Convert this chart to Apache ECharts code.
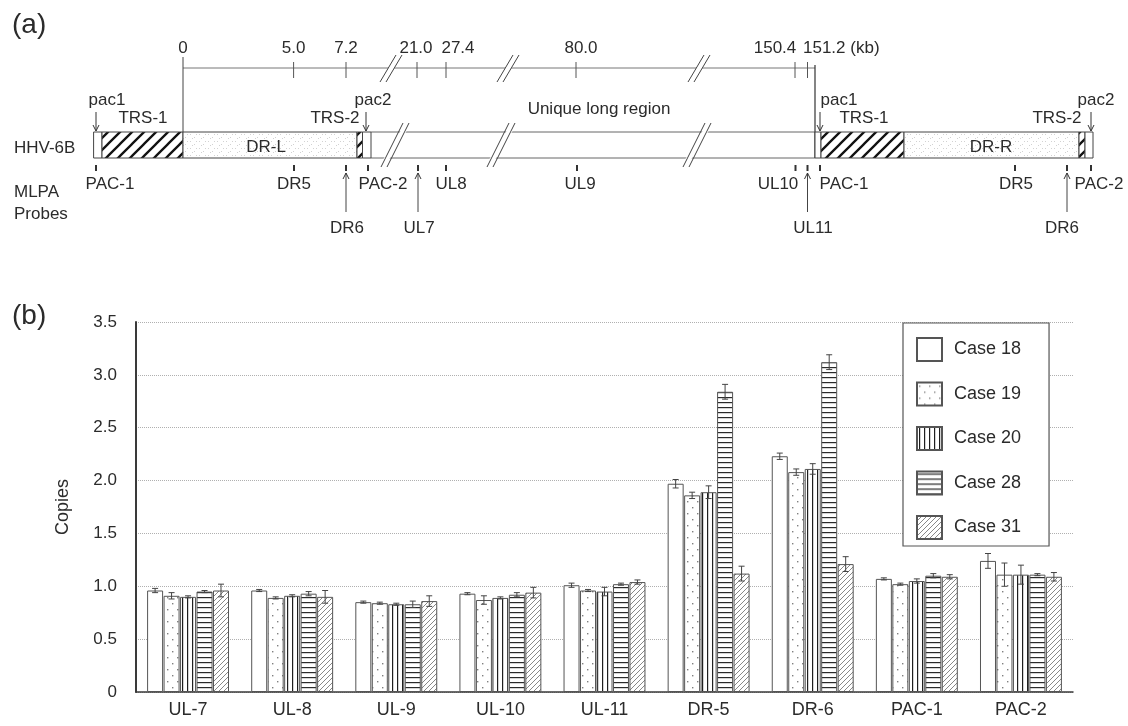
<!DOCTYPE html>
<html>
<head>
<meta charset="utf-8">
<script src="https://cdn.jsdelivr.net/npm/echarts@6/dist/echarts.min.js"></script>
<style>
html,body{margin:0;padding:0;background:#fff;}
#chart{width:1128px;height:726px;}
</style>
</head>
<body>
<div id="chart"></div>
<script>
// ---------------- Data: panel (b) ----------------
const categories = ['UL-7','UL-8','UL-9','UL-10','UL-11','DR-5','DR-6','PAC-1','PAC-2'];
const caseNames = ['Case 18','Case 19','Case 20','Case 28','Case 31'];
const case18 = [0.96, 0.96, 0.85, 0.93, 1.01, 1.97, 2.23, 1.07, 1.24];
const case19 = [0.91, 0.89, 0.84, 0.87, 0.96, 1.86, 2.08, 1.02, 1.11];
const case20 = [0.90, 0.91, 0.83, 0.89, 0.95, 1.89, 2.11, 1.05, 1.11];
const case28 = [0.95, 0.93, 0.83, 0.92, 1.02, 2.84, 3.12, 1.10, 1.11];
const case31 = [0.96, 0.90, 0.86, 0.94, 1.04, 1.12, 1.21, 1.09, 1.09];
const err18 = [0.02, 0.01, 0.01, 0.01, 0.02, 0.04, 0.03, 0.01, 0.07];
const err19 = [0.03, 0.01, 0.01, 0.04, 0.01, 0.03, 0.03, 0.01, 0.11];
const err20 = [0.01, 0.01, 0.01, 0.01, 0.04, 0.06, 0.05, 0.02, 0.09];
const err28 = [0.01, 0.02, 0.03, 0.02, 0.01, 0.07, 0.07, 0.02, 0.01];
const err31 = [0.06, 0.06, 0.05, 0.05, 0.02, 0.07, 0.07, 0.02, 0.04];
const yTicks = ['0','0.5','1.0','1.5','2.0','2.5','3.0','3.5'];

// ---------------- Data: panel (a) schematic (map units) ----------------
const segStart = [93.6, 102, 183, 357, 362.5, 815, 821, 904, 1079, 1085];
const segEnd   = [102, 183, 357, 362.5, 371, 821, 904, 1079, 1085, 1093];
const segKind  = ['plain','hatch','stipple','hatch','plain','plain','hatch','stipple','hatch','plain'];
const uniqueRegion = [371, 815];
const rulerRange = [183, 815];
const rulerTickPos = [293.6, 346, 417, 446, 576, 795, 807.5];
const rulerLabels = ['0','5.0','7.2','21.0','27.4','80.0','150.4','151.2 (kb)'];
const rulerLabelPos = [183, 293.6, 346, 416, 458, 581, 775, 803];
const rulerLabelAlign = ['center','center','center','center','center','center','center','left'];
const rulerBreakPos = [388, 505, 696];
const barBreakPos = [392, 498, 694];
const regionLabels = ['pac1','TRS-1','DR-L','TRS-2','pac2','Unique long region','pac1','TRS-1','DR-R','TRS-2','pac2'];
const regionLabelPos = [107, 143, 266, 335, 373, 599, 839, 864, 991, 1057, 1096];
const regionLabelRow = ['pac','trs','in','trs','pac','uniq','pac','trs','in','trs','pac'];
const pacArrowPos = [96, 366, 820, 1091];
const probeNames = ['PAC-1','DR5','DR6','PAC-2','UL7','UL8','UL9','UL10','UL11','PAC-1','DR5','DR6','PAC-2'];
const probeMapPos = [96, 294, 346, 368, 418, 446, 577, 795.5, 807.5, 820, 1015, 1067, 1091];
const probeLabelPos = [110, 294, 347, 383, 419, 451, 580, 778, 813, 844, 1016, 1062, 1099];
const probeLowerRow = [0,0,1,0,1,0,0,0,1,0,0,1,0];

// ---------------- Styles ----------------
const FONT = '"Liberation Sans", Arial, sans-serif';
const TXT = '#2b2b2b';
const LINE = '#555';
const Y = {rulerLabel:48, ruler:68, tickTop:62, tickBot:78, zeroTop:57, endTop:65,
  pacText:100, trsText:118, uniqText:109, inText:147, arrowTop:112, arrowBot:131,
  barTop:132, barBot:158, probeTop:165, probeBot:171, probeLabel:184, lowLabel:228,
  lowArrowTop:173, lowArrowBot:212};

function pat(w, h, draw) {
  const c = document.createElement('canvas');
  c.width = w; c.height = h;
  const g = c.getContext('2d');
  g.fillStyle = '#fff'; g.fillRect(0, 0, w, h);
  draw(g, w, h);
  return {image: c, repeat: 'repeat'};
}
function diag(g, w, h, color, lw) {
  g.strokeStyle = color; g.lineWidth = lw;
  g.beginPath();
  g.moveTo(0, h); g.lineTo(w, 0);
  g.moveTo(-2, 2); g.lineTo(2, -2);
  g.moveTo(w - 2, h + 2); g.lineTo(w + 2, h - 2);
  g.stroke();
}
const fills = [
  '#ffffff',
  pat(10, 12, (g) => { g.fillStyle = '#808080'; g.fillRect(2, 3, 1.4, 1.4); g.fillRect(7, 9, 1.4, 1.4); }),
  pat(5, 4, (g) => { g.fillStyle = '#1e1e1e'; g.fillRect(2, 0, 1.2, 4); }),
  pat(4, 5, (g) => { g.fillStyle = '#2a2a2a'; g.fillRect(0, 2, 4, 1.2); }),
  pat(5, 5, (g, w, h) => diag(g, w, h, '#7a7a7a', 0.9))
];
const hatchFill = pat(12, 12, (g, w, h) => diag(g, w, h, '#111', 2.3));
const stippleFill = pat(9, 7, (g) => {
  g.fillStyle = '#d2d2d2'; g.fillRect(1, 1, 1, 1); g.fillRect(5, 4, 1, 1); g.fillRect(7, 1, 1, 1); g.fillRect(3, 5, 1, 1);
});

function txt(x, y, text, size, align) {
  const a = align || 'center';
  return {type: 'text', x: x, y: y, style: {text: text, fontSize: size, fontFamily: FONT, fill: TXT,
    align: a, verticalAlign: 'middle', textAlign: a, textVerticalAlign: 'middle'}};
}
function ln(p1, p2, w, color) {
  return {type: 'line', shape: {x1: p1[0], y1: p1[1], x2: p2[0], y2: p2[1]},
    style: {stroke: color || LINE, lineWidth: w || 1}};
}
function arrowHead(p, dir) { // dir 1 = pointing down, -1 = up
  return {type: 'polyline', shape: {points: [[p[0] - 3, p[1] - dir * 6], [p[0], p[1]], [p[0] + 3, p[1] - dir * 6]]},
    style: {stroke: '#333', lineWidth: 1, fill: null}};
}

// ---------------- Series for schematic (grid 1) ----------------
const schematicBase = {type: 'custom', xAxisIndex: 1, yAxisIndex: 1, silent: true, clip: false, animation: false};
const schematic = [];

schematic.push(Object.assign({}, schematicBase, {
  name: 'segments', z: 2,
  data: segStart.map((s, i) => [s, segEnd[i]]),
  renderItem: function (params, api) {
    const i = params.dataIndex;
    const a = api.coord([segStart[i], Y.barTop]);
    const b = api.coord([segEnd[i], Y.barBot]);
    const f = segKind[i] === 'hatch' ? hatchFill : segKind[i] === 'stipple' ? stippleFill : '#fff';
    return {type: 'rect', shape: {x: a[0], y: a[1], width: b[0] - a[0], height: b[1] - a[1]},
      style: {fill: f, stroke: '#444', lineWidth: 1}};
  }
}));

schematic.push(Object.assign({}, schematicBase, {
  name: 'unique', z: 1,
  data: [uniqueRegion],
  renderItem: function (params, api) {
    const children = [
      ln(api.coord([uniqueRegion[0], Y.barTop]), api.coord([uniqueRegion[1], Y.barTop]), 1, '#666'),
      ln(api.coord([uniqueRegion[0], Y.barBot]), api.coord([uniqueRegion[1], Y.barBot]), 1, '#666'),
      ln(api.coord([rulerRange[0], Y.ruler]), api.coord([rulerRange[1], Y.ruler]), 1, '#777'),
      ln(api.coord([rulerRange[0], Y.zeroTop]), api.coord([rulerRange[0], Y.barTop]), 1, '#444'),
      ln(api.coord([rulerRange[1], Y.endTop]), api.coord([rulerRange[1], Y.barBot]), 1.2, '#333')
    ];
    return {type: 'group', children: children};
  }
}));

schematic.push(Object.assign({}, schematicBase, {
  name: 'rulerTicks', z: 3,
  data: rulerTickPos.map((p) => [p, Y.ruler]),
  renderItem: function (params, api) {
    const p = rulerTickPos[params.dataIndex];
    return ln(api.coord([p, Y.tickTop]), api.coord([p, Y.tickBot]), 1, '#555');
  }
}));

schematic.push(Object.assign({}, schematicBase, {
  name: 'rulerLabels', z: 3,
  data: rulerLabelPos.map((p) => [p, Y.rulerLabel]),
  renderItem: function (params, api) {
    const i = params.dataIndex;
    const c = api.coord([rulerLabelPos[i], Y.rulerLabel]);
    return txt(c[0], c[1], rulerLabels[i], 17, rulerLabelAlign[i]);
  }
}));

function breakMark(api, x, yTop, yBot, halfSlant) {
  const a = api.coord([x - halfSlant, yBot]);
  const b = api.coord([x + halfSlant, yTop]);
  const s = 6;
  return {type: 'group', children: [
    {type: 'polygon', shape: {points: [[a[0], a[1] - 4], [b[0], b[1] + 4], [b[0] + s, b[1] + 4], [a[0] + s, a[1] - 4]]},
      style: {fill: '#fff', stroke: null}},
    ln(a, b, 1, '#444'),
    ln([a[0] + s, a[1]], [b[0] + s, b[1]], 1, '#444')
  ]};
}
schematic.push(Object.assign({}, schematicBase, {
  name: 'rulerBreaks', z: 4,
  data: rulerBreakPos.map((p) => [p, Y.ruler]),
  renderItem: function (params, api) {
    return breakMark(api, rulerBreakPos[params.dataIndex], 55, 82, 8);
  }
}));
schematic.push(Object.assign({}, schematicBase, {
  name: 'barBreaks', z: 4,
  data: barBreakPos.map((p) => [p, Y.barTop]),
  renderItem: function (params, api) {
    return breakMark(api, barBreakPos[params.dataIndex], 123, 167, 11);
  }
}));

const rowY = {pac: Y.pacText, trs: Y.trsText, in: Y.inText, uniq: Y.uniqText};
schematic.push(Object.assign({}, schematicBase, {
  name: 'regionLabels', z: 5,
  data: regionLabelPos.map((p, i) => [p, rowY[regionLabelRow[i]]]),
  renderItem: function (params, api) {
    const i = params.dataIndex;
    const c = api.coord([regionLabelPos[i], rowY[regionLabelRow[i]]]);
    return txt(c[0], c[1], regionLabels[i], 17);
  }
}));

schematic.push(Object.assign({}, schematicBase, {
  name: 'pacArrows', z: 5,
  data: pacArrowPos.map((p) => [p, Y.arrowTop]),
  renderItem: function (params, api) {
    const p = pacArrowPos[params.dataIndex];
    const a = api.coord([p, Y.arrowTop]);
    const b = api.coord([p, Y.arrowBot]);
    return {type: 'group', children: [ln(a, b, 1, '#333'), arrowHead(b, 1)]};
  }
}));

schematic.push(Object.assign({}, schematicBase, {
  name: 'probes', z: 5,
  data: probeMapPos.map((p) => [p, Y.probeTop]),
  renderItem: function (params, api) {
    const i = params.dataIndex;
    const p = probeMapPos[i];
    const children = [ln(api.coord([p, Y.probeTop]), api.coord([p, Y.probeBot]), 2, '#333')];
    if (probeLowerRow[i]) {
      const a = api.coord([p, Y.lowArrowTop]);
      const b = api.coord([p, Y.lowArrowBot]);
      children.push(ln(a, b, 1, '#444'));
      children.push(arrowHead(a, -1));
      const c = api.coord([probeLabelPos[i], Y.lowLabel]);
      children.push(txt(c[0], c[1], probeNames[i], 17));
    } else {
      const c = api.coord([probeLabelPos[i], Y.probeLabel]);
      children.push(txt(c[0], c[1], probeNames[i], 17));
    }
    return {type: 'group', children: children};
  }
}));

// ---------------- Bars (grid 0) ----------------
const values = [case18, case19, case20, case28, case31];
const errors = [err18, err19, err20, err28, err31];
const BAR_W = 16, BAR_GAP = 0.03;

const barSeries = caseNames.map((name, k) => ({
  name: name, type: 'bar', xAxisIndex: 0, yAxisIndex: 0,
  barWidth: BAR_W, barGap: (BAR_GAP * 100) + '%',
  data: values[k],
  itemStyle: {color: fills[k], borderColor: '#555', borderWidth: 1},
  animation: false, silent: true, z: 2
}));

const errSeries = caseNames.map((name, k) => ({
  name: name + ' err', type: 'custom', xAxisIndex: 0, yAxisIndex: 0, silent: true, animation: false, z: 5,
  data: categories.map((c, j) => [j, values[k][j], errors[k][j]]),
  renderItem: function (params, api) {
    const j = api.value(0), v = api.value(1), e = api.value(2);
    const gap = BAR_W * BAR_GAP;
    const total = 5 * BAR_W + 4 * gap;
    const center = api.coord([j, v])[0];
    const x = center - total / 2 + BAR_W / 2 + k * (BAR_W + gap);
    const top = api.coord([j, v + e])[1];
    const bot = api.coord([j, v - e])[1];
    return {type: 'group', children: [
      ln([x, top], [x, bot], 1, '#444'),
      ln([x - 3, top], [x + 3, top], 1, '#444'),
      ln([x - 3, bot], [x + 3, bot], 1, '#444')
    ]};
  }
}));

const chart = echarts.init(document.getElementById('chart'), null, {renderer: 'canvas'});
chart.setOption({
  backgroundColor: '#fff',
  animation: false,
  textStyle: {fontFamily: FONT},
  grid: [
    {left: 136, right: 55, top: 322, bottom: 34},
    {left: 0, top: 0, width: 1128, height: 260}
  ],
  xAxis: [
    {type: 'category', gridIndex: 0, data: categories,
      axisLine: {lineStyle: {color: '#3a3a3a', width: 1.5}},
      axisTick: {show: false},
      axisLabel: {fontSize: 18, color: TXT, margin: 9, fontFamily: FONT}},
    {type: 'value', gridIndex: 1, min: 0, max: 1128, show: false}
  ],
  yAxis: [
    {type: 'value', gridIndex: 0, min: 0, max: 3.5, interval: 0.5,
      name: 'Copies', nameLocation: 'middle', nameGap: 64, nameRotate: 90,
      nameTextStyle: {fontSize: 18, color: TXT, fontFamily: FONT},
      axisLine: {show: true, lineStyle: {color: '#3a3a3a', width: 2}},
      axisTick: {show: false},
      axisLabel: {fontSize: 17, color: TXT, margin: 19, fontFamily: FONT,
        formatter: (v) => yTicks[Math.round(v / 0.5)]},
      splitLine: {show: true, lineStyle: {color: '#b0b0b0', type: 'dotted', width: 1}}},
    {type: 'value', gridIndex: 1, min: 0, max: 260, inverse: true, show: false}
  ],
  legend: {
    data: caseNames, orient: 'vertical', left: 903, top: 323,
    padding: [14, 28, 6, 13], itemWidth: 25, itemHeight: 23, itemGap: 19.5,
    borderColor: '#555', borderWidth: 1.2, backgroundColor: '#fff',
    selectedMode: false, icon: 'rect',
    textStyle: {fontSize: 18, color: TXT, fontFamily: FONT, padding: [0, 0, 0, 7]}
  },
  graphic: [
    {type: 'text', left: 12, top: 11, style: {text: '(a)', fontSize: 28, fontFamily: FONT, fill: TXT}},
    {type: 'text', left: 12, top: 302, style: {text: '(b)', fontSize: 28, fontFamily: FONT, fill: TXT}},
    {type: 'text', left: 14, top: 140, style: {text: 'HHV-6B', fontSize: 17, fontFamily: FONT, fill: TXT}},
    {type: 'text', left: 14, top: 184, style: {text: 'MLPA', fontSize: 17, fontFamily: FONT, fill: TXT}},
    {type: 'text', left: 14, top: 206, style: {text: 'Probes', fontSize: 17, fontFamily: FONT, fill: TXT}}
  ],
  series: schematic.concat(barSeries, errSeries)
});
</script>
</body>
</html>
